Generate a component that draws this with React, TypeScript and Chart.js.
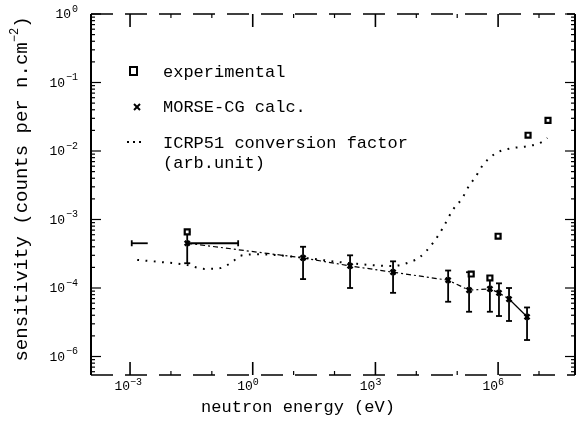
import React, { useEffect, useRef } from "react";
import { Chart, registerables } from "chart.js";
Chart.register(...registerables);

// ---- data (energies in eV) ----
const morseEnergy = [0.025, 17, 240, 2700, 6e4, 1.95e5, 6.3e5, 1.05e6, 1.85e6, 5.1e6];
const morseValue = [4.5e-4, 2.75e-4, 2.1e-4, 1.7e-4, 1.3e-4, 9.3e-5, 9.7e-5, 8.5e-5, 6.9e-5, 3.8e-5];
const morseErrLow = [2.3e-4, 1.35e-4, 1.0e-4, 8.5e-5, 6.3e-5, 4.5e-5, 4.5e-5, 3.9e-5, 3.3e-5, 1.74e-5];
const morseErrHigh = [6.6e-4, 4.0e-4, 3.0e-4, 2.45e-4, 1.8e-4, 1.7e-4, 1.5e-4, 1.17e-4, 1.0e-4, 5.2e-5];
const firstPointEnergyRange = [1.1e-3, 0.44];

const expEnergy = [0.025, 2.2e5, 6.3e5, 1.0e6, 5.4e6, 1.66e7];
const expValue = [6.6e-4, 1.6e-4, 1.4e-4, 5.7e-4, 0.017, 0.028];

const icrpEnergy = [1.5e-3, 5.4e-3, 0.022, 0.068, 0.16, 0.33, 0.49, 1.5, 14, 240, 2700, 7100, 1.2e4, 2.6e4, 4.5e4, 7.9e4, 1.3e5, 1.95e5, 2.75e5, 4.3e5, 8.9e5, 2.2e6, 5.1e6, 1.17e7, 1.6e7];
const icrpValue = [2.57e-4, 2.4e-4, 2.2e-4, 1.9e-4, 1.95e-4, 2.45e-4, 2.95e-4, 3.1e-4, 2.8e-4, 2.3e-4, 2.1e-4, 2.4e-4, 2.8e-4, 4.6e-4, 7.6e-4, 1.4e-3, 2.0e-3, 3.1e-3, 4.1e-3, 6.3e-3, 9.3e-3, 0.011, 0.0117, 0.0135, 0.0155];

const xTickValues = [1e-3, 1, 1e3, 1e6];
const xTickExponents = ["\u22123", "0", "3", "6"];
const yTickValues = [1, 1e-1, 1e-2, 1e-3, 1e-4, 1e-5];
const yTickExponents = ["0", "\u22121", "\u22122", "\u22123", "\u22124", "\u22126"];

const legendLabels = ["experimental", "MORSE-CG calc.", "ICRP51 conversion factor", "(arb.unit)"];
const xTitle = "neutron energy (eV)";
const yTitle = "sensitivity (counts per n.cm";
const yTitleSup = "\u22122";

const X_MIN = 1.11e-4;
const X_MAX = 7.59e7;
const Y_MIN = 5.37e-6;
const Y_MAX = 1;

const MONO = "'Liberation Mono', 'DejaVu Sans Mono', monospace";

function line(ctx: CanvasRenderingContext2D, x1: number, y1: number, x2: number, y2: number) {
  ctx.beginPath();
  ctx.moveTo(x1, y1);
  ctx.lineTo(x2, y2);
  ctx.stroke();
}

const sameDecade = (a: number, b: number) => Math.abs(Math.log10(a) - Math.log10(b)) < 1e-6;

const errorBarPlugin = {
  id: "errorBars",
  beforeDatasetsDraw(chart: any) {
    const ctx: CanvasRenderingContext2D = chart.ctx;
    const xs = chart.scales.x;
    const ys = chart.scales.y;
    ctx.save();
    ctx.strokeStyle = "#000";
    ctx.lineWidth = 1.8;
    for (let i = 0; i < morseEnergy.length; i++) {
      const px = xs.getPixelForValue(morseEnergy[i]);
      const pl = ys.getPixelForValue(morseErrLow[i]);
      const ph = ys.getPixelForValue(morseErrHigh[i]);
      line(ctx, px, ph, px, pl);
      line(ctx, px - 3, ph, px + 3, ph);
      line(ctx, px - 3, pl, px + 3, pl);
    }
    // horizontal energy bar of first point
    const py = ys.getPixelForValue(morseValue[0]);
    const x1 = xs.getPixelForValue(firstPointEnergyRange[0]);
    const x2 = xs.getPixelForValue(firstPointEnergyRange[1]);
    const xc = xs.getPixelForValue(morseEnergy[0]);
    line(ctx, x1, py, x1 + 16, py);
    line(ctx, xc, py, x2, py);
    line(ctx, x1, py - 3, x1, py + 3);
    line(ctx, x2, py - 3, x2, py + 3);
    ctx.restore();
  },
};

const framePlugin = {
  id: "frame",
  afterDraw(chart: any) {
    const ctx: CanvasRenderingContext2D = chart.ctx;
    const { left, right, top, bottom } = chart.chartArea;
    const xs = chart.scales.x;
    const ys = chart.scales.y;
    ctx.save();
    ctx.strokeStyle = "#000";
    ctx.fillStyle = "#000";
    ctx.lineWidth = 2;
    line(ctx, left, top, left, bottom);
    line(ctx, right, top, right, bottom);
    ctx.lineWidth = 1.5;
    ctx.setLineDash([22, 12]);
    line(ctx, left, top, right, top);
    line(ctx, left, bottom, right, bottom);
    ctx.setLineDash([]);

    // y ticks (both sides, inward)
    ctx.lineWidth = 1.2;
    for (let e = -6; e <= 0; e++) {
      for (let m = 1; m <= 9; m++) {
        const v = m * Math.pow(10, e);
        if (v < Y_MIN || v > Y_MAX) continue;
        const p = ys.getPixelForValue(v);
        const len = m === 1 ? 10 : 4;
        line(ctx, left, p, left + len, p);
        line(ctx, right, p, right - len, p);
      }
    }
    // x ticks (top & bottom, inward)
    for (let e = -4; e <= 8; e++) {
      const v = Math.pow(10, e);
      if (v < X_MIN || v > X_MAX) continue;
      const p = xs.getPixelForValue(v);
      const major = xTickValues.some((t) => sameDecade(t, v));
      const len = major ? 13 : 4;
      ctx.lineWidth = major ? 1.6 : 1.2;
      line(ctx, p, top, p, top + len);
      line(ctx, p, bottom, p, bottom - len);
    }

    // y tick labels
    ctx.textBaseline = "middle";
    yTickValues.forEach((v, i) => {
      const p = ys.getPixelForValue(v);
      ctx.font = `10px ${MONO}`;
      const ew = ctx.measureText(yTickExponents[i]).width;
      ctx.textAlign = "left";
      ctx.fillText(yTickExponents[i], 78 - ew, p - 5);
      ctx.font = `13px ${MONO}`;
      ctx.textAlign = "right";
      ctx.fillText("10", 78 - ew - 1, p + 1);
    });
    // x tick labels
    xTickValues.forEach((v, i) => {
      const p = xs.getPixelForValue(v);
      ctx.font = `13px ${MONO}`;
      ctx.textAlign = "right";
      ctx.fillText("10", p, bottom + 12);
      ctx.font = `10px ${MONO}`;
      ctx.textAlign = "left";
      ctx.fillText(xTickExponents[i], p, bottom + 7);
    });

    // axis titles
    ctx.font = `17px ${MONO}`;
    ctx.textAlign = "center";
    ctx.fillText(xTitle, 298, 407);

    ctx.save();
    ctx.translate(22, 189);
    ctx.rotate(-Math.PI / 2);
    ctx.font = `19px ${MONO}`;
    const w1 = ctx.measureText(yTitle).width;
    ctx.font = `12px ${MONO}`;
    const w2 = ctx.measureText(yTitleSup).width;
    ctx.font = `19px ${MONO}`;
    const w3 = ctx.measureText(")").width;
    const total = w1 + w2 + w3;
    const x0 = -total / 2;
    ctx.textAlign = "left";
    ctx.fillText(yTitle, x0, 0);
    ctx.font = `12px ${MONO}`;
    ctx.fillText(yTitleSup, x0 + w1, -7);
    ctx.font = `19px ${MONO}`;
    ctx.fillText(")", x0 + w1 + w2, 0);
    ctx.restore();

    // legend
    ctx.font = `17px ${MONO}`;
    ctx.textAlign = "left";
    ctx.fillText(legendLabels[0], 163, 72);
    ctx.fillText(legendLabels[1], 163, 107);
    ctx.fillText(legendLabels[2], 163, 143);
    ctx.fillText(legendLabels[3], 163, 163);
    // symbols
    ctx.lineWidth = 2;
    ctx.strokeRect(130, 67, 7, 8);
    line(ctx, 134, 104, 140, 110);
    line(ctx, 140, 104, 134, 110);
    [128, 134, 140].forEach((x) => ctx.fillRect(x - 1, 141, 2, 2));
    ctx.restore();
  },
};

export default function App() {
  const ref = useRef<HTMLCanvasElement | null>(null);
  useEffect(() => {
    if (!ref.current) return;
    const chart = new Chart(ref.current, {
      type: "line",
      data: {
        datasets: [
          {
            label: "ICRP51 conversion factor",
            data: icrpEnergy.map((e, i) => ({ x: e, y: icrpValue[i] })),
            borderColor: "#000",
            borderWidth: 2,
            borderDash: [1.8, 6.5],
            pointRadius: 0,
            cubicInterpolationMode: "monotone",
            fill: false,
          },
          {
            label: "MORSE-CG calc.",
            data: morseEnergy.map((e, i) => ({ x: e, y: morseValue[i] })),
            borderColor: "#000",
            borderWidth: 1.2,
            borderDash: [5, 3, 2, 3],
            segment: {
              borderDash: (c: any) => (c.p1DataIndex === morseEnergy.length - 1 ? [] : undefined),
            },
            pointStyle: "crossRot",
            pointRadius: 3.5,
            pointBorderWidth: 2.5,
            pointBorderColor: "#000",
            tension: 0,
            fill: false,
          },
          {
            label: "experimental",
            data: expEnergy.map((e, i) => ({ x: e, y: expValue[i] })),
            showLine: false,
            pointStyle: "rect",
            pointRadius: 3.5,
            pointBorderWidth: 2.2,
            pointBorderColor: "#000",
            pointBackgroundColor: "#fff",
          },
        ],
      },
      options: {
        animation: false,
        responsive: false,
        maintainAspectRatio: false,
        layout: { padding: { left: 91, right: 12, top: 14, bottom: 47 } },
        plugins: { legend: { display: false }, tooltip: { enabled: false } },
        scales: {
          x: { type: "logarithmic", min: X_MIN, max: X_MAX, bounds: "data", display: false },
          y: { type: "logarithmic", min: Y_MIN, max: Y_MAX, bounds: "data", display: false },
        },
      },
      plugins: [errorBarPlugin, framePlugin],
    } as any);
    return () => chart.destroy();
  }, []);
  return (
    <div style={{ position: "fixed", left: 0, top: 0, width: 587, height: 422, background: "#fff" }}>
      <canvas ref={ref} width={587} height={422} style={{ display: "block" }} />
    </div>
  );
}
